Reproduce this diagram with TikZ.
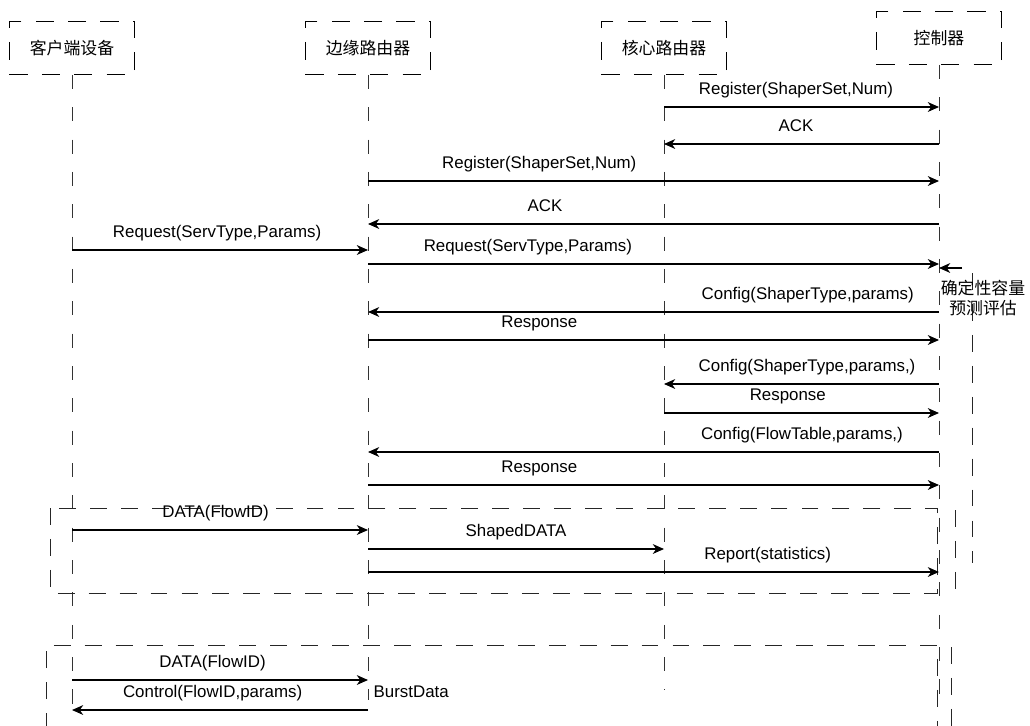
\documentclass[tikz,border=0pt]{standalone}
\usepackage{fontspec}
\setmainfont{Liberation Sans}
\newfontfamily\cjk{Noto Sans CJK SC}
\usetikzlibrary{arrows.meta}

\begin{document}
\begin{tikzpicture}[x=0.025cm, y=-0.025cm,
  every node/.style={font=\fontsize{12}{14}\selectfont},
  hdr/.style={draw, dash pattern=on 13pt off 10pt, line width=0.6pt, minimum width=3.125cm, minimum height=1.325cm, font=\fontsize{12}{14}\selectfont\cjk},
  life/.style={draw=black!80, dash pattern=on 10pt off 13pt, line width=0.6pt},
  box/.style={draw=black!85, dash pattern=on 12pt off 10pt, line width=0.6pt},
  msg/.style={-{Stealth[length=8pt,width=7pt,inset=2.5pt]}, line width=0.75pt},
  lbl/.style={above=3.5pt, inner sep=2pt, text height=9pt, text depth=3pt}]
\fill[white] (0,0) rectangle (1030,725);
\useasboundingbox (0,0) rectangle (1030,725);
\clip (0,0) rectangle (1030,725);

\node[hdr] (client) at (72,48) {客户端设备};
\node[hdr] (edge) at (368,48) {边缘路由器};
\node[hdr] (core) at (664,48) {核心路由器};
\node[hdr] (ctrl) at (939,38) {控制器};

\coordinate (clientEnd) at (72,705);
\coordinate (edgeEnd) at (368,700);
\coordinate (coreEnd) at (664,690);
\coordinate (ctrlEnd) at (939,697);
\draw[life] (client) -- (clientEnd);
\draw[life] (edge) -- (edgeEnd);
\draw[life] (core) -- (coreEnd);
\draw[life] (ctrl) -- (ctrlEnd);

\draw[box] (50,508) rectangle (937,593);
\draw[box] (46,730) -- (46,645) -- (937,645) -- (937,730);
\draw[box] (972,273) -- (972,563);
\draw[box] (955,510) -- (955,593) -- (950,593);
\draw[box] (951,647) -- (951,730);

\draw[msg] (core |- 0,107) -- (ctrl |- 0,107) node[lbl, pos=.48]{Register(ShaperSet,Num)};
\draw[msg] (ctrl |- 0,144) -- (core |- 0,144) node[lbl, pos=.52]{ACK};
\draw[msg] (edge |- 0,181) -- (ctrl |- 0,181) node[lbl, pos=.30]{Register(ShaperSet,Num)};
\draw[msg] (ctrl |- 0,224) -- (edge |- 0,224) node[lbl, pos=.69]{ACK};
\draw[msg] (client |- 0,250) -- (edge |- 0,250) node[lbl, pos=.49]{Request(ServType,Params)};
\draw[msg] (edge |- 0,264) -- (ctrl |- 0,264) node[lbl, pos=.28]{Request(ServType,Params)};
\draw[msg] (ctrl |- 0,312) -- (edge |- 0,312) node[lbl, pos=.23]{Config(ShaperType,params)};
\draw[msg] (edge |- 0,340) -- (ctrl |- 0,340) node[lbl, pos=.30]{Response};
\draw[msg] (ctrl |- 0,384) -- (core |- 0,384) node[lbl, pos=.48]{Config(ShaperType,params,)};
\draw[msg] (core |- 0,413) -- (ctrl |- 0,413) node[lbl, pos=.45]{Response};
\draw[msg] (ctrl |- 0,452) -- (edge |- 0,452) node[lbl, pos=.24]{Config(FlowTable,params,)};
\draw[msg] (edge |- 0,485) -- (ctrl |- 0,485) node[lbl, pos=.30]{Response};
\draw[msg] (client |- 0,530) -- (edge |- 0,530) node[lbl, pos=.485]{DATA(FlowID)};
\draw[msg] (edge |- 0,549) -- (core |- 0,549) node[lbl, pos=.50]{ShapedDATA};
\draw[msg] (edge |- 0,572) -- (ctrl |- 0,572) node[lbl, pos=.70]{Report(statistics)};
\draw[msg] (client |- 0,680) -- (edge |- 0,680) node[lbl, pos=.475]{DATA(FlowID)};
\draw[msg] (edge |- 0,710) -- (client |- 0,710) node[lbl, pos=.525]{Control(FlowID,params)};

\coordinate (evalStart) at (962,268);
\draw[msg] (evalStart) -- (ctrl |- 0,268);
\node[align=center, inner sep=0pt, font=\fontsize{12}{14.5}\selectfont\cjk] (eval) at (983,298) {确定性容量\\预测评估};
\node[anchor=west, inner sep=1pt] (burst) at (372,692) {BurstData};
\end{tikzpicture}
\end{document}
